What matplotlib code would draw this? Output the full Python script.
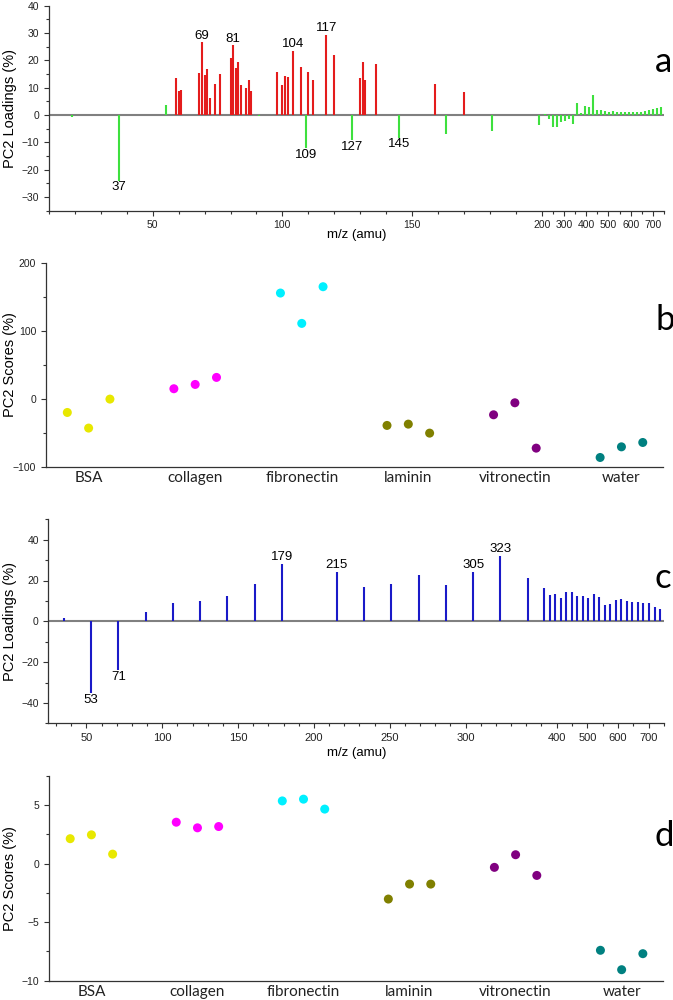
import numpy as np
import matplotlib
matplotlib.use("Agg")
import matplotlib.pyplot as plt
from matplotlib.ticker import FixedLocator, MultipleLocator

# ---- panel a: PC2 loadings (red / green peaks)
a_red_mz = [59, 60, 61, 68, 69, 70, 71, 72, 74, 76, 80, 81, 82, 83, 84, 86, 87, 88,
            98, 100, 101, 102, 104, 107, 110, 112, 117, 120, 130, 131, 132, 136, 159, 170]
a_red_val = [13.5, 8.7, 9.3, 15.4, 26.6, 14.8, 17.0, 6.4, 11.5, 14.9, 20.8, 25.5, 17.1, 19.3,
             11.0, 9.8, 13.0, 8.8, 15.8, 11.1, 14.3, 13.8, 23.6, 17.6, 15.7, 12.7, 29.4, 22.0,
             13.7, 19.3, 12.7, 18.5, 11.3, 8.4]
a_green_mz = [19, 37, 55, 91, 109, 127, 145, 163, 181,
              199, 215, 233, 251, 269, 287, 305, 323, 341, 359, 377, 395, 413, 431, 449, 467,
              485, 503, 521, 539, 557, 575, 593, 611, 629, 647, 665, 683, 701, 719, 737]
a_green_val = [-0.6, -24.0, 3.7, -0.3, -12.0, -9.3, -8.3, -6.9, -5.9,
               -3.5, 0.4, -1.3, -4.4, -4.3, -2.4, -2.0, -1.6, -3.2, 4.4, 0.9, 3.2, 2.8, 7.2,
               2.0, 1.7, 1.6, 1.0, 1.5, 1.0, 1.2, 1.2, 1.1, 1.1, 1.0, 1.0, 1.3, 1.8, 2.2,
               2.4, 2.8]
a_labels = [37, 69, 81, 104, 109, 117, 127, 145]

# ---- panel c: PC2 loadings (blue peaks)
c_mz = [35, 53, 71, 89, 107, 125, 143, 161, 179, 215, 233, 251, 269, 287, 305, 323, 341,
        359, 377, 395, 413, 431, 449, 467, 485, 503, 521, 539, 557, 575, 593, 611, 629,
        647, 665, 683, 701, 719, 737]
c_val = [1.8, -35.3, -23.9, 4.4, 8.8, 9.8, 12.2, 18.4, 28.3, 24.4, 16.9, 18.5, 22.8, 17.7,
         24.4, 32.0, 21.3,
         16.4, 12.8, 13.5, 11.2, 14.5, 14.5, 12.6, 12.4, 11.5, 13.5, 12.0, 7.9, 8.3, 10.2,
         10.7, 10.1, 9.3, 9.6, 8.9, 8.8, 7.2, 5.9]
c_labels = [53, 71, 179, 215, 305, 323]

# ---- panels b / d: PC2 scores
groups = ["BSA", "collagen", "fibronectin", "laminin", "vitronectin", "water"]
group_colors = ["#e8e800", "#ff00ff", "#00f0ff", "#808000", "#800080", "#008080"]
b_scores = [[-19.6, -42.5, 0.0],
            [15.2, 21.5, 31.8],
            [155.5, 111.0, 164.8],
            [-38.6, -36.7, -49.9],
            [-23.0, -5.4, -71.9],
            [-85.6, -70.0, -63.6]]
d_scores = [[2.14, 2.47, 0.82],
            [3.55, 3.07, 3.18],
            [5.37, 5.52, 4.67],
            [-3.02, -1.74, -1.74],
            [-0.31, 0.77, -1.0],
            [-7.4, -9.06, -7.69]]
rep_offset = [-0.2, 0.0, 0.2]

NUM_FONT = "Liberation Sans"
CAT_FONT = "Lato"
plt.rcParams["font.family"] = NUM_FONT

fig = plt.figure(figsize=(6.73, 10), dpi=100)


def add_ax(l, t, r, b):
    return fig.add_axes([l / 673, 1 - b / 1000, (r - l) / 673, (b - t) / 1000])


def broken(brk, r):
    def fwd(x):
        x = np.asarray(x, dtype=float)
        return np.where(x <= brk, x, brk + (x - brk) * r)

    def inv(y):
        y = np.asarray(y, dtype=float)
        return np.where(y <= brk, y, brk + (y - brk) / r)
    return fwd, inv


def style(ax):
    for s in ["top", "right"]:
        ax.spines[s].set_visible(False)
    for s in ["left", "bottom"]:
        ax.spines[s].set_color("#333333")
        ax.spines[s].set_linewidth(0.9)
    ax.tick_params(which="both", direction="out", colors="#333333", width=0.8,
                   labelsize=7.5, labelcolor="#222222")
    ax.tick_params(which="major", length=3.5)
    ax.tick_params(which="minor", length=2)


def place_ylabel(ax, x):
    ax.yaxis.set_label_coords(x, 0.5)
    ax.yaxis.label.set_va("center")


def place_xlabel(ax, y):
    ax.xaxis.set_label_coords(0.5, y)
    ax.xaxis.label.set_va("center")


def loadings(ax, series, labels, brk, ratio, xlim, ylim, major_x, minor_x, ymaj, ymin_):
    ax.set_xscale("function", functions=broken(brk, ratio))
    ax.axhline(0, color="#808080", lw=1.5, zorder=1)
    lookup = {}
    for mz, val, col in series:
        ax.vlines(mz, 0, val, colors=col, lw=1.5, zorder=2)
        lookup.update(dict(zip(mz, val)))
    for m in labels:
        h = lookup[m]
        if h > 0:
            ax.annotate(str(m), (m, h), xytext=(0, 0.5), textcoords="offset points",
                        ha="center", va="bottom", fontsize=9.5)
        else:
            ax.annotate(str(m), (m, h), xytext=(0, -0.5), textcoords="offset points",
                        ha="center", va="top", fontsize=9.5)
    ax.set_xlim(*xlim)
    ax.set_ylim(*ylim)
    ax.xaxis.set_major_locator(FixedLocator(major_x))
    ax.xaxis.set_minor_locator(FixedLocator(minor_x))
    ax.set_xticklabels([str(v) for v in major_x])
    ax.yaxis.set_major_locator(MultipleLocator(ymaj))
    ax.yaxis.set_minor_locator(MultipleLocator(ymin_))
    style(ax)
    ax.set_ylabel("PC2 Loadings (%)", fontsize=10.5)
    ax.set_xlabel("m/z (amu)", fontsize=9.5)


def scores(ax, data, ylim, ymaj, ymin_):
    for i, (vals, col) in enumerate(zip(data, group_colors)):
        xs = [i + o for o in rep_offset]
        ax.scatter(xs, vals, s=42, color=col, edgecolors="none", zorder=3)
    ax.set_xlim(-0.4, 5.39)
    ax.set_ylim(*ylim)
    ax.set_xticks(range(len(groups)))
    ax.set_xticklabels(groups, fontfamily=CAT_FONT, fontsize=11)
    ax.yaxis.set_major_locator(MultipleLocator(ymaj))
    ax.yaxis.set_minor_locator(MultipleLocator(ymin_))
    style(ax)
    ax.tick_params(axis="x", length=0, labelsize=11, pad=3)
    ax.set_ylabel("PC2 Scores (%)", fontsize=10.5)


# panel a
ax_a = add_ax(49, 5.7, 664, 210.7)
a_major = [50, 100, 150, 200, 300, 400, 500, 600, 700]
a_minor = [v for v in range(10, 200, 10) if v not in a_major] + [250, 350, 450, 550, 650, 750]
loadings(ax_a, [(a_red_mz, a_red_val, "#e41c1c"), (a_green_mz, a_green_val, "#3ee03e")],
         a_labels, 200, 0.0858, (10, 750), (-35, 40), a_major, a_minor, 10, 5)
place_ylabel(ax_a, -0.063)
place_xlabel(ax_a, -0.12)

# panel b
ax_b = add_ax(46, 262.7, 663, 467.3)
scores(ax_b, b_scores, (-100, 200), 100, 50)
place_ylabel(ax_b, -0.059)

# panel c
ax_c = add_ax(48.5, 519.3, 664, 723.3)
c_major = [50, 100, 150, 200, 250, 300, 400, 500, 600, 700]
c_minor = [v for v in range(30, 360, 10) if v not in c_major] + [450, 550, 650, 750]
loadings(ax_c, [(c_mz, c_val, "#1a1ac8")], c_labels, 350, 0.202, (25, 750), (-50, 50),
         c_major, c_minor, 20, 10)
ax_c.tick_params(axis="x", labelsize=8)
place_ylabel(ax_c, -0.063)
place_xlabel(ax_c, -0.147)

# panel d
ax_d = add_ax(49, 776, 663, 980.7)
scores(ax_d, d_scores, (-10, 7.5), 5, 2.5)
place_ylabel(ax_d, -0.064)

# panel letters
for letter, y in zip(["a", "b", "c", "d"], [62, 320, 578, 836]):
    fig.text(655 / 673, 1 - y / 1000, letter, fontfamily=CAT_FONT, fontsize=25,
             ha="left", va="center")

fig.savefig("out.png", dpi=100)
